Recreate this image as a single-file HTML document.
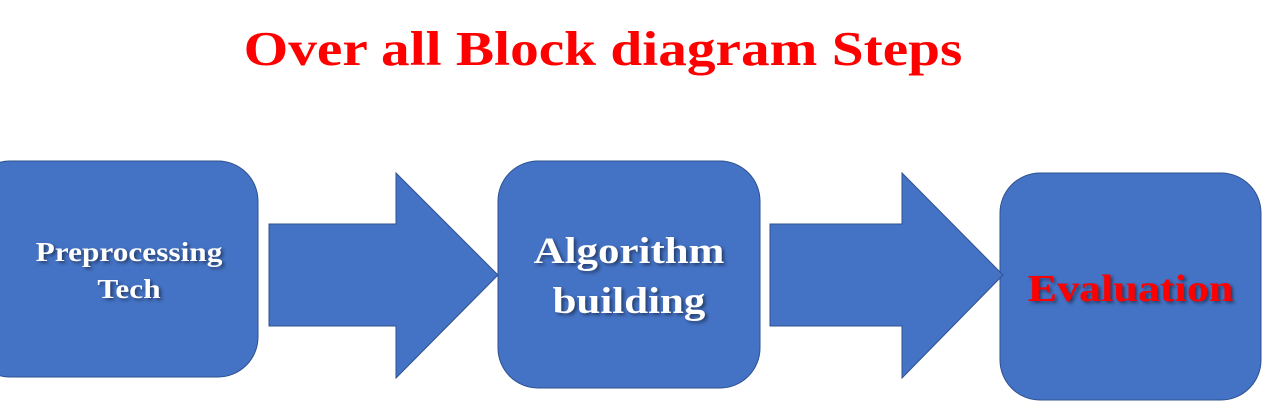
<!DOCTYPE html>
<html><head><style>
body{margin:0;width:1268px;height:410px;background:#fff;position:relative;overflow:hidden;font-family:"Liberation Serif",serif;font-weight:bold}
.t{position:absolute;left:0;width:1206px;top:14px;text-align:center;color:#f00;font-size:49px;line-height:70px;transform:scaleX(1.17);transform-origin:603px 0}
.l{position:absolute;text-align:center;text-shadow:2px 2px 3px rgba(0,0,0,.45);transform:scaleX(1.16)}
</style></head><body>
<div class="t">Over all Block diagram Steps</div>
<svg width="1268" height="410" style="position:absolute;left:0;top:0">
<g fill="#4472c4" stroke="#2f528f" stroke-width="1">
<rect x="-30" y="161" width="288" height="216" rx="40"/>
<rect x="498" y="161" width="262" height="227" rx="40"/>
<rect x="1000" y="173" width="261" height="227" rx="40"/>
<polygon points="269,224 396,224 396,173 498,275 396,378 396,326 269,326"/>
<polygon points="770,224 902,224 902,173 1003,275 902,378 902,326 770,326"/>
</g></svg>
<div class="l" style="left:0;width:258px;top:234px;font-size:27px;line-height:37px;color:#fff">Preprocessing<br>Tech</div>
<div class="l" style="left:498px;width:262px;top:227px;font-size:37px;line-height:50px;color:#fff">Algorithm<br>building</div>
<div class="l" style="left:1000px;width:261px;top:264px;font-size:38px;line-height:50px;color:#f00">Evaluation</div>
</body></html>
